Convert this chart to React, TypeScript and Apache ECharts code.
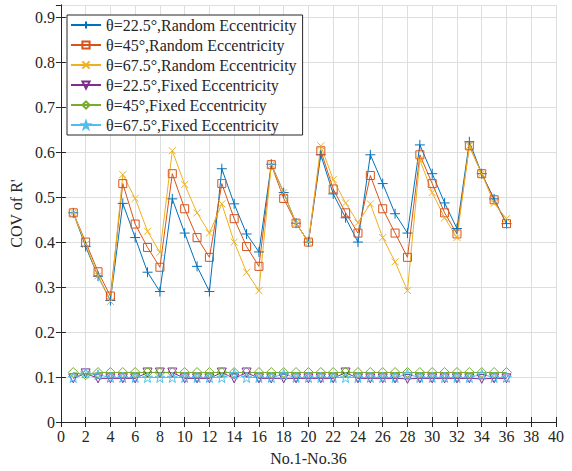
import React, { useEffect, useRef } from "react";
import * as echarts from "echarts";

const indices = Array.from({ length: 36 }, (_, i) => i + 1);

const random225 = [0.465, 0.39, 0.324, 0.27, 0.486, 0.41, 0.333, 0.29, 0.496, 0.42, 0.346, 0.29,
  0.563, 0.485, 0.418, 0.378, 0.573, 0.51, 0.442, 0.4, 0.594, 0.507, 0.454, 0.4,
  0.594, 0.53, 0.463, 0.42, 0.616, 0.552, 0.487, 0.43, 0.623, 0.552, 0.496, 0.441];
const random45 = [0.465, 0.4, 0.334, 0.28, 0.53, 0.44, 0.388, 0.344, 0.552, 0.474, 0.41, 0.366,
  0.53, 0.452, 0.39, 0.346, 0.572, 0.497, 0.442, 0.4, 0.603, 0.518, 0.465, 0.42,
  0.548, 0.474, 0.42, 0.366, 0.594, 0.53, 0.465, 0.418, 0.614, 0.552, 0.494, 0.441];
const random675 = [0.465, 0.395, 0.325, 0.268, 0.55, 0.497, 0.424, 0.377, 0.603, 0.528, 0.465, 0.42,
  0.485, 0.4, 0.333, 0.292, 0.572, 0.51, 0.442, 0.4, 0.614, 0.539, 0.487, 0.443,
  0.485, 0.41, 0.356, 0.292, 0.583, 0.51, 0.454, 0.41, 0.614, 0.552, 0.486, 0.452];
const fixed225 = [0.097, 0.108, 0.097, 0.097, 0.097, 0.097, 0.11, 0.11, 0.11, 0.097, 0.097, 0.097,
  0.11, 0.097, 0.11, 0.097, 0.097, 0.097, 0.097, 0.097, 0.097, 0.097, 0.11, 0.097,
  0.097, 0.097, 0.097, 0.096, 0.097, 0.097, 0.097, 0.097, 0.097, 0.096, 0.097, 0.097];
const fixed45 = [0.11, 0.105, 0.11, 0.11, 0.11, 0.11, 0.11, 0.11, 0.11, 0.11, 0.11, 0.11,
  0.11, 0.11, 0.11, 0.11, 0.11, 0.11, 0.11, 0.11, 0.11, 0.11, 0.11, 0.11,
  0.11, 0.11, 0.11, 0.11, 0.11, 0.11, 0.11, 0.11, 0.11, 0.11, 0.11, 0.11];
const fixed675 = [0.099, 0.109, 0.105, 0.099, 0.099, 0.099, 0.099, 0.099, 0.099, 0.099, 0.099, 0.099,
  0.099, 0.107, 0.099, 0.099, 0.099, 0.106, 0.099, 0.099, 0.099, 0.099, 0.099, 0.099,
  0.099, 0.099, 0.099, 0.106, 0.099, 0.099, 0.099, 0.099, 0.099, 0.106, 0.099, 0.099];

const seriesNames = [
  "θ=22.5°,Random Eccentricity",
  "θ=45°,Random Eccentricity",
  "θ=67.5°,Random Eccentricity",
  "θ=22.5°,Fixed Eccentricity",
  "θ=45°,Fixed Eccentricity",
  "θ=67.5°,Fixed Eccentricity",
];
const seriesData = [random225, random45, random675, fixed225, fixed45, fixed675];
const colors = ["#0072BD", "#D95319", "#EDB120", "#7E2F8E", "#77AC30", "#4DBEEE"];

function starPath() {
  let d = "";
  for (let k = 0; k < 10; k++) {
    const a = ((-90 + 36 * k) * Math.PI) / 180;
    const r = k % 2 === 0 ? 5 : 2;
    const x = 5 + r * Math.cos(a);
    const y = 5 + r * Math.sin(a);
    d += (k === 0 ? "M" : "L") + x.toFixed(3) + "," + y.toFixed(3);
  }
  return "path://" + d + "Z";
}

const symbols = [
  "path://M5,0L5,10M0,5L10,5",
  "rect",
  "path://M0,0L10,10M10,0L0,10",
  "path://M0,0L10,0L5,8.66Z",
  "diamond",
  starPath(),
];
const symbolSizes = [10, 8, 7, 9, 10, 10];

const FONT = "Liberation Serif";
const TXT = "#262626";

export default function App() {
  const ref = useRef<HTMLDivElement>(null);
  useEffect(() => {
    if (!ref.current) return;
    const chart = echarts.init(ref.current, undefined, { renderer: "svg" });
    const axisLine = { show: true, lineStyle: { color: TXT, width: 1 } };
    const option = {
      animation: false,
      backgroundColor: "#ffffff",
      textStyle: { fontFamily: FONT },
      grid: { left: 56, right: 16, top: 5, bottom: 49, containLabel: false },
      legend: {
        orient: "vertical",
        left: 67,
        top: 15,
        padding: [2, 6, 2, 3],
        itemWidth: 30,
        itemHeight: 9,
        itemGap: 4,
        backgroundColor: "#ffffff",
        borderColor: TXT,
        borderWidth: 1,
        textStyle: { fontFamily: FONT, fontSize: 16, color: TXT },
        data: seriesNames,
      },
      xAxis: [
        {
          type: "value",
          min: 0,
          max: 40,
          interval: 2,
          name: "No.1-No.36",
          nameLocation: "middle",
          nameGap: 28,
          nameTextStyle: { fontFamily: FONT, fontSize: 16, color: TXT },
          axisLine,
          axisTick: { show: true, inside: true, length: 5, lineStyle: { color: TXT } },
          axisLabel: { fontFamily: FONT, fontSize: 16, color: TXT, margin: 6 },
          splitLine: { show: true, lineStyle: { color: "#dedede", width: 1 } },
        },
        {
          type: "value",
          position: "top",
          min: 0,
          max: 40,
          interval: 2,
          axisLine,
          axisTick: { show: true, inside: true, length: 5, lineStyle: { color: TXT } },
          axisLabel: { show: false },
          splitLine: { show: false },
        },
      ],
      yAxis: [
        {
          type: "value",
          min: 0,
          max: 0.927,
          interval: 0.1,
          name: "COV of R'",
          nameLocation: "middle",
          nameGap: 31,
          nameTextStyle: { fontFamily: FONT, fontSize: 16, color: TXT },
          axisLine,
          axisTick: { show: true, inside: true, length: 5, lineStyle: { color: TXT } },
          axisLabel: {
            fontFamily: FONT,
            fontSize: 16,
            color: TXT,
            margin: 6,
            showMaxLabel: false,
            formatter: (v: number) => {
              const r = Math.round(v * 10) / 10;
              return Math.abs(r - v) < 1e-6 ? String(r) : "";
            },
          },
          splitLine: { show: true, lineStyle: { color: "#dedede", width: 1 } },
        },
        {
          type: "value",
          position: "right",
          min: 0,
          max: 0.927,
          interval: 0.1,
          axisLine,
          axisTick: { show: true, inside: true, length: 5, lineStyle: { color: TXT } },
          axisLabel: { show: false },
          splitLine: { show: false },
        },
      ],
      series: seriesNames.map((name, i) => ({
        name,
        type: "line",
        xAxisIndex: 0,
        yAxisIndex: 0,
        data: seriesData[i].map((v, j) => [indices[j], v]),
        symbol: symbols[i],
        symbolSize: symbolSizes[i],
        showAllSymbol: true,
        lineStyle: { color: colors[i], width: 1 },
        itemStyle: { color: "rgba(0,0,0,0)", borderColor: colors[i], borderWidth: 1 },
        emphasis: { disabled: true },
      })),
    };
    chart.setOption(option as any);
    return () => chart.dispose();
  }, []);
  return (
    <div
      ref={ref}
      style={{ position: "absolute", left: 0, top: 0, width: 572, height: 471 }}
    />
  );
}
